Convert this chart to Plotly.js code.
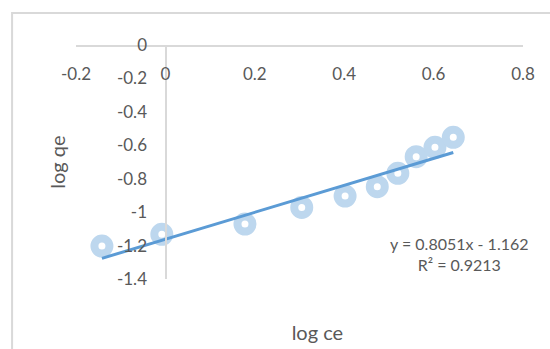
<!DOCTYPE html>
<html>
<head>
<meta charset="utf-8">
<script src="https://cdn.plot.ly/plotly-3.0.1.min.js"></script>
<style>html,body{margin:0;padding:0;background:#fff;}#chart{width:550px;height:349px;}</style>
</head>
<body>
<div id="chart"></div>
<script>
// Data
var logCe = [-0.142, -0.008, 0.178, 0.305, 0.402, 0.474, 0.520, 0.561, 0.603, 0.644];
var logQe = [-1.203, -1.133, -1.071, -0.972, -0.904, -0.848, -0.768, -0.668, -0.612, -0.552];
var trendSlope = 0.8051;
var trendIntercept = -1.162;
var equationText = "y = 0.8051x - 1.162<br>R² = 0.9213";
var xTickVals = [-0.2, 0, 0.2, 0.4, 0.6, 0.8];
var xTickText = ["-0.2", "0", "0.2", "0.4", "0.6", "0.8"];
var yTickVals = [0, -0.2, -0.4, -0.6, -0.8, -1, -1.2, -1.4];
var yTickText = ["0", "-0.2", "-0.4", "-0.6", "-0.8", "-1", "-1.2", "-1.4"];
var xTitle = "log ce";
var yTitle = "log qe";

var xMin = Math.min.apply(null, logCe), xMax = Math.max.apply(null, logCe);
var trendX = [xMin, xMax];
var trendY = trendX.map(function(v){ return trendSlope * v + trendIntercept; });

var FONT = "Lato, 'Open Sans', sans-serif";
var GRAY = "#595959";
var AXIS = "#d9d9d9";

var traces = [
  {
    x: logCe, y: logQe, type: "scatter", mode: "markers",
    marker: {symbol: "circle-open", size: 15, color: "#bdd7ee", line: {width: 8}},
    showlegend: false, hoverinfo: "x+y"
  },
  {
    x: trendX, y: trendY, type: "scatter", mode: "lines",
    line: {color: "#5b9bd5", width: 3},
    showlegend: false, hoverinfo: "skip"
  },
  {
    x: [], y: [], xaxis: "x2", type: "scatter", mode: "markers",
    showlegend: false, hoverinfo: "skip"
  }
];

var layout = {
  width: 550, height: 349,
  margin: {l: 76, r: 27, t: 45, b: 70, pad: 0},
  paper_bgcolor: "#ffffff",
  plot_bgcolor: "rgba(0,0,0,0)",
  font: {family: FONT, color: GRAY, size: 17},
  showlegend: false,
  xaxis: {
    range: [-0.2, 0.8], side: "bottom", domain: [0, 1],
    anchor: "free", position: 1,
    showline: true, linecolor: AXIS, linewidth: 1.5,
    showgrid: false, zeroline: false,
    ticks: "outside", ticklen: 13, tickcolor: "rgba(0,0,0,0)",
    tickmode: "array", tickvals: xTickVals, ticktext: xTickText,
    tickfont: {family: FONT, color: GRAY, size: 17}
  },
  xaxis2: {
    range: [-0.2, 0.8], anchor: "y", domain: [0.08, 1],
    showline: false, showgrid: false, zeroline: false,
    showticklabels: false, ticks: "",
    title: {text: xTitle, font: {family: FONT, color: GRAY, size: 20}, standoff: 46}
  },
  yaxis: {
    range: [-1.4, 0], anchor: "free", position: 0.2,
    showline: true, linecolor: AXIS, linewidth: 1.5,
    showgrid: false, zeroline: false,
    ticks: "outside", ticklen: 15, tickcolor: "rgba(0,0,0,0)",
    tickmode: "array", tickvals: yTickVals, ticktext: yTickText,
    tickfont: {family: FONT, color: GRAY, size: 17},
    title: {text: yTitle, font: {family: FONT, color: GRAY, size: 20}, standoff: 44}
  },
  annotations: [
    {
      xref: "x", yref: "y", x: 0.659, y: -1.251,
      text: equationText, showarrow: false, align: "center",
      xanchor: "center", yanchor: "middle",
      font: {family: FONT, color: GRAY, size: 16}
    }
  ],
  shapes: [
    {
      type: "rect", xref: "paper", yref: "paper", layer: "below",
      x0: -0.143, x1: 1.3, y0: -0.6, y1: 1.137,
      line: {color: "#d9d9d9", width: 2}, fillcolor: "rgba(0,0,0,0)"
    }
  ]
};

Plotly.newPlot("chart", traces, layout, {displayModeBar: false, staticPlot: true});
</script>
</body>
</html>
